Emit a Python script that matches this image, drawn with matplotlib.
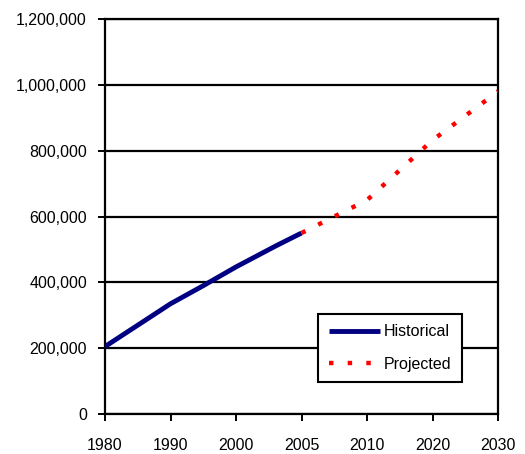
import numpy as np
import matplotlib
matplotlib.use("Agg")
from matplotlib import pyplot as plt
from matplotlib.ticker import FuncFormatter

# tick years (the chart spaces them evenly)
tick_years = [1980, 1990, 2000, 2005, 2010, 2020, 2030]

hist_years = [1980, 1985, 1990, 1995, 2000, 2003, 2005]
hist_vals = [205000, 270000, 335000, 390000, 447000, 510000, 550000]

proj_years = [2005, 2010, 2020, 2030]
proj_vals = [550000, 650000, 832000, 980000]

plt.rcParams['font.family'] = ['Liberation Sans', 'DejaVu Sans']

slots = np.arange(len(tick_years), dtype=float)


def forward(x):
    return np.interp(x, tick_years, slots, left=np.nan, right=np.nan)


def inverse(x):
    return np.interp(x, slots, tick_years)


fig = plt.figure(figsize=(5.25, 4.54), dpi=100)
ax = fig.add_axes([0.2, 0.088, 0.7486, 0.870])
ax.set_xscale('function', functions=(forward, inverse))

ax.plot(hist_years, hist_vals, color='#000080', lw=3.5, label='Historical',
        solid_capstyle='butt', zorder=3)
ax.plot(proj_years, proj_vals, color='#ff0000', lw=3.2, linestyle=(0, (1, 3.2)),
        label='Projected', dash_capstyle='butt', zorder=3)

ax.set_xlim(1980, 2030)
ax.set_ylim(0, 1200000)
ax.set_xticks(tick_years)
ax.set_xticklabels([str(y) for y in tick_years])
ax.set_yticks(range(0, 1200001, 200000))
ax.yaxis.set_major_formatter(FuncFormatter(lambda v, p: f'{int(v):,}'))
ax.minorticks_off()

ax.yaxis.grid(True, color='black', lw=1.6)
ax.set_axisbelow(True)
for s in ax.spines.values():
    s.set_linewidth(1.6)
    s.set_color('black')
ax.tick_params(axis='both', direction='out', length=5, width=1.4,
               labelsize=11.5, colors='black')
ax.tick_params(axis='x', pad=12.5)
ax.tick_params(axis='y', pad=8)

leg = ax.legend(loc='lower right', bbox_to_anchor=(0.908, 0.081),
                fontsize=11.5, frameon=True, fancybox=False,
                handlelength=3.2, handletextpad=0.25, labelspacing=1.1,
                borderpad=0.65, borderaxespad=0)
leg.get_frame().set_edgecolor('black')
leg.get_frame().set_linewidth(1.5)
leg.get_frame().set_alpha(1)

fig.savefig('out.png', dpi=100)
